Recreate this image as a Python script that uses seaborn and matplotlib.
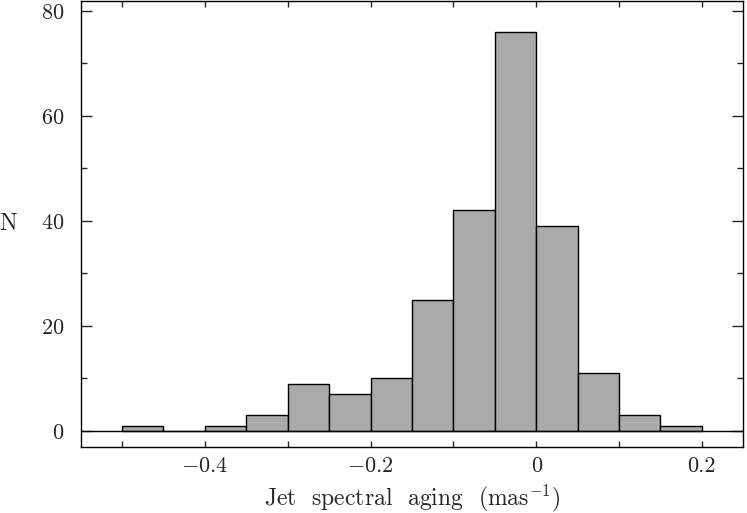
import numpy as np
import pandas as pd
import matplotlib
matplotlib.use('Agg')
import matplotlib.pyplot as plt
from matplotlib.ticker import MultipleLocator
import seaborn as sns

# histogram of jet spectral aging, bin width 0.05
bin_edges = [-0.5, -0.45, -0.4, -0.35, -0.3, -0.25, -0.2, -0.15, -0.1,
             -0.05, 0.0, 0.05, 0.1, 0.15, 0.2]
counts = [1, 0, 1, 3, 9, 7, 10, 25, 42, 76, 39, 11, 3, 1]

centers = [(a + b) / 2 for a, b in zip(bin_edges[:-1], bin_edges[1:])]
df = pd.DataFrame({"aging": centers, "n": counts})

sns.set_style("ticks")
plt.rcParams['font.family'] = ['cmr10', 'DejaVu Serif']
plt.rcParams['mathtext.fontset'] = 'cm'
plt.rcParams['axes.unicode_minus'] = False
plt.rcParams['axes.formatter.use_mathtext'] = True

fig = plt.figure(figsize=(7.47, 5.13), dpi=100)
ax = fig.add_axes([0.108, 0.129, 0.887, 0.869])

sns.histplot(data=df, x="aging", weights="n", bins=bin_edges, ax=ax,
             color="#aaaaaa", edgecolor="black", linewidth=1.0, alpha=1.0)
ax.axhline(0, color="black", lw=1.0, zorder=3)

ax.set_xlim(-0.55, 0.25)
ax.set_ylim(-3.05, 81.9)

ax.xaxis.set_minor_locator(MultipleLocator(0.1))
ax.yaxis.set_major_locator(MultipleLocator(20))
ax.yaxis.set_minor_locator(MultipleLocator(10))
ax.set_xticks([-0.4, -0.2, 0, 0.2])
ax.set_xticklabels(["$-0.4$", "$-0.2$", "0", "0.2"])

ax.tick_params(axis='x', which='both', direction='in', top=True, bottom=True,
               length=4.5, width=1, labelsize=16, pad=7)
ax.tick_params(axis='y', which='major', direction='in', left=True, right=True,
               length=7.7, width=1, labelsize=16, pad=12)
ax.tick_params(axis='y', which='minor', direction='in', left=True, right=True,
               length=4.1, width=1)
for s in ax.spines.values():
    s.set_visible(True)
    s.set_linewidth(1.0)
    s.set_color("black")

ax.set_xlabel("Jet  spectral  aging  (mas$^{-1}$)", fontsize=17, labelpad=5)
ax.set_ylabel("N", fontsize=17, rotation=0, ha='center', va='center')
ax.yaxis.set_label_coords(-0.109, 0.5)

fig.savefig("out.png", dpi=100)
